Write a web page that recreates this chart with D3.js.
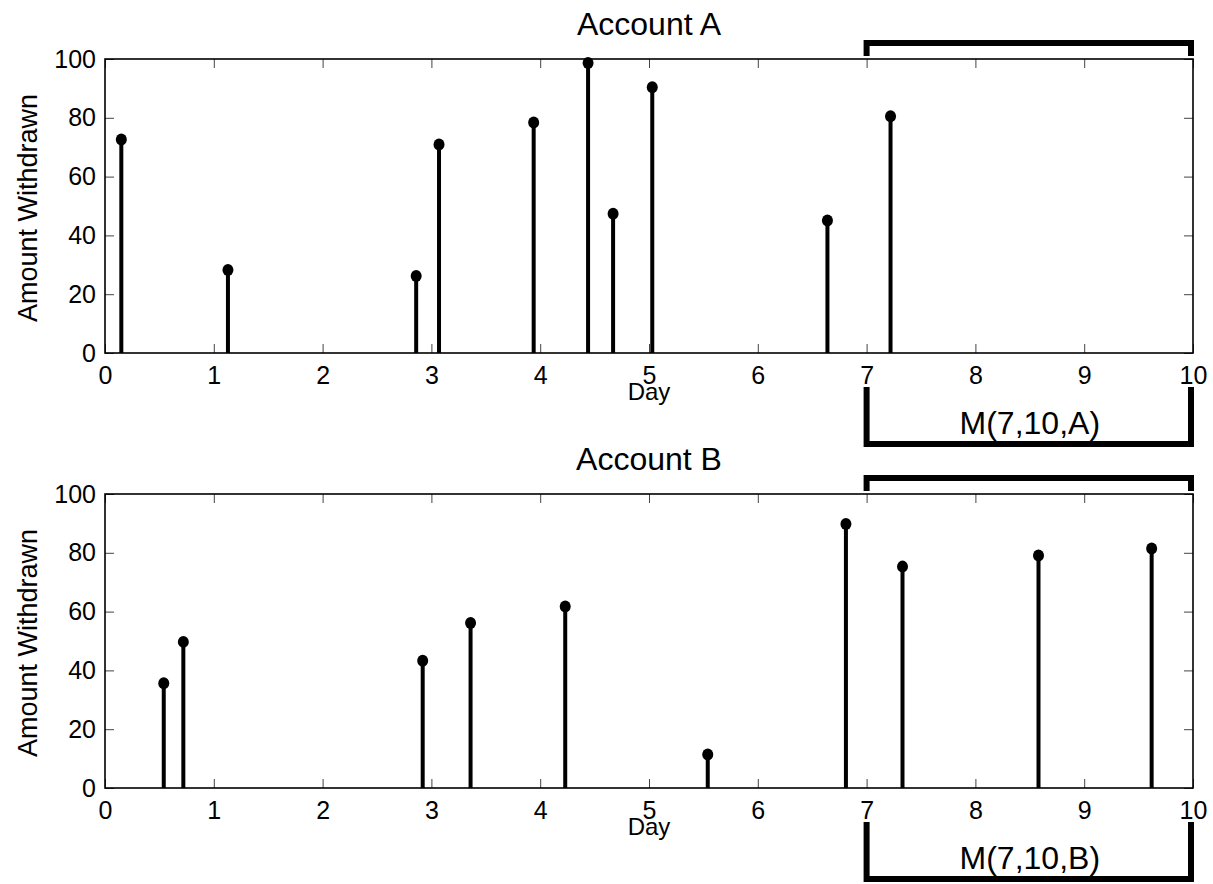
<!DOCTYPE html>
<html>
<head>
<meta charset="utf-8">
<script src="https://cdn.jsdelivr.net/npm/d3@7"></script>
<style>
  html, body { margin: 0; padding: 0; background: #fff; }
  text { font-family: "Liberation Sans", Arial, Helvetica, sans-serif; fill: #000; }
</style>
</head>
<body>
<div id="chart"></div>
<script>
const dayTicks = [0, 1, 2, 3, 4, 5, 6, 7, 8, 9, 10];
const amountTicks = [0, 20, 40, 60, 80, 100];

const daysA = [0.15, 1.13, 2.86, 3.07, 3.94, 4.44, 4.67, 5.03, 6.64, 7.22];
const amountsA = [72.6, 28.2, 26.2, 70.9, 78.4, 98.6, 47.4, 90.4, 45.1, 80.5];

const daysB = [0.54, 0.72, 2.92, 3.36, 4.23, 5.54, 6.81, 7.33, 8.58, 9.62];
const amountsB = [35.6, 49.7, 43.3, 56.1, 61.7, 11.4, 89.8, 75.3, 79.1, 81.5];

const titles = ["Account A", "Account B"];
const windowLabels = ["M(7,10,A)", "M(7,10,B)"];
const windowDays = [7, 10];

const width = 1213, height = 884;
const plotLeft = 105, plotRight = 1193;
const panelTops = [59, 494];
const plotHeight = 294;

const svg = d3.select("#chart").append("svg")
    .attr("width", width)
    .attr("height", height);

const x = d3.scaleLinear().domain([0, 10]).range([plotLeft, plotRight]);

function drawPanel(top, days, amounts, title, windowLabel) {
    const bottom = top + plotHeight;
    const y = d3.scaleLinear().domain([0, 100]).range([bottom, top]);
    const g = svg.append("g");

    // inside ticks on all four sides, labels only bottom / left
    const axes = [
        [d3.axisBottom(x).tickValues(dayTicks).tickPadding(13), `translate(0,${bottom})`],
        [d3.axisTop(x).tickValues(dayTicks).tickFormat(""), `translate(0,${top})`],
        [d3.axisLeft(y).tickValues(amountTicks).tickPadding(9), `translate(${plotLeft},0)`],
        [d3.axisRight(y).tickValues(amountTicks).tickFormat(""), `translate(${plotRight},0)`]
    ];
    axes.forEach(([axis, tr]) => {
        const a = g.append("g")
            .attr("transform", tr)
            .call(axis.tickSizeInner(-9).tickSizeOuter(0));
        a.select(".domain").remove();
        a.selectAll(".tick line").attr("stroke", "#444").attr("stroke-width", 1);
        a.selectAll(".tick text")
            .style("font-family", '"Liberation Sans", Arial, sans-serif')
            .style("font-size", "25px")
            .attr("fill", "#000");
    });

    g.append("rect")
        .attr("x", plotLeft)
        .attr("y", top)
        .attr("width", plotRight - plotLeft)
        .attr("height", plotHeight)
        .attr("fill", "none")
        .attr("stroke", "#000")
        .attr("stroke-width", 1.6);

    // stems
    const pts = days.map((d, i) => [d, amounts[i]]);
    g.selectAll(".stem")
        .data(pts)
        .join("line")
        .attr("class", "stem")
        .attr("x1", d => x(d[0]))
        .attr("x2", d => x(d[0]))
        .attr("y1", y(0))
        .attr("y2", d => y(d[1]))
        .attr("stroke", "#000")
        .attr("stroke-width", 4);

    g.selectAll(".dot")
        .data(pts)
        .join("ellipse")
        .attr("class", "dot")
        .attr("cx", d => x(d[0]))
        .attr("cy", d => y(d[1]))
        .attr("rx", 5.5)
        .attr("ry", 6)
        .attr("fill", "#000");

    g.append("text")
        .attr("x", (plotLeft + plotRight) / 2)
        .attr("y", top - 24)
        .attr("text-anchor", "middle")
        .style("font-size", "32px")
        .text(title);

    g.append("text")
        .attr("x", (plotLeft + plotRight) / 2)
        .attr("y", bottom + 47)
        .attr("text-anchor", "middle")
        .style("font-size", "24px")
        .text("Day");

    g.append("text")
        .attr("transform", `translate(37,${(top + bottom) / 2 + 2}) rotate(-90)`)
        .attr("text-anchor", "middle")
        .style("font-size", "27px")
        .text("Amount Withdrawn");

    // window brackets above and below the plot
    const wx0 = x(windowDays[0]), wx1 = x(windowDays[1]) - 2;
    const upper = d3.path();
    upper.moveTo(wx0, top - 3);
    upper.lineTo(wx0, top - 16);
    upper.lineTo(wx1, top - 16);
    upper.lineTo(wx1, top - 3);
    g.append("path")
        .attr("d", upper.toString())
        .attr("fill", "none")
        .attr("stroke", "#000")
        .attr("stroke-width", 6);

    const lower = d3.path();
    lower.moveTo(wx0, bottom + 34);
    lower.lineTo(wx0, bottom + 91);
    lower.lineTo(wx1, bottom + 91);
    lower.lineTo(wx1, bottom + 34);
    g.append("path")
        .attr("d", lower.toString())
        .attr("fill", "none")
        .attr("stroke", "#000")
        .attr("stroke-width", 6);

    g.append("text")
        .attr("x", x((windowDays[0] + windowDays[1]) / 2))
        .attr("y", bottom + 81)
        .attr("text-anchor", "middle")
        .style("font-size", "32px")
        .text(windowLabel);
}

drawPanel(panelTops[0], daysA, amountsA, titles[0], windowLabels[0]);
drawPanel(panelTops[1], daysB, amountsB, titles[1], windowLabels[1]);
</script>
</body>
</html>
